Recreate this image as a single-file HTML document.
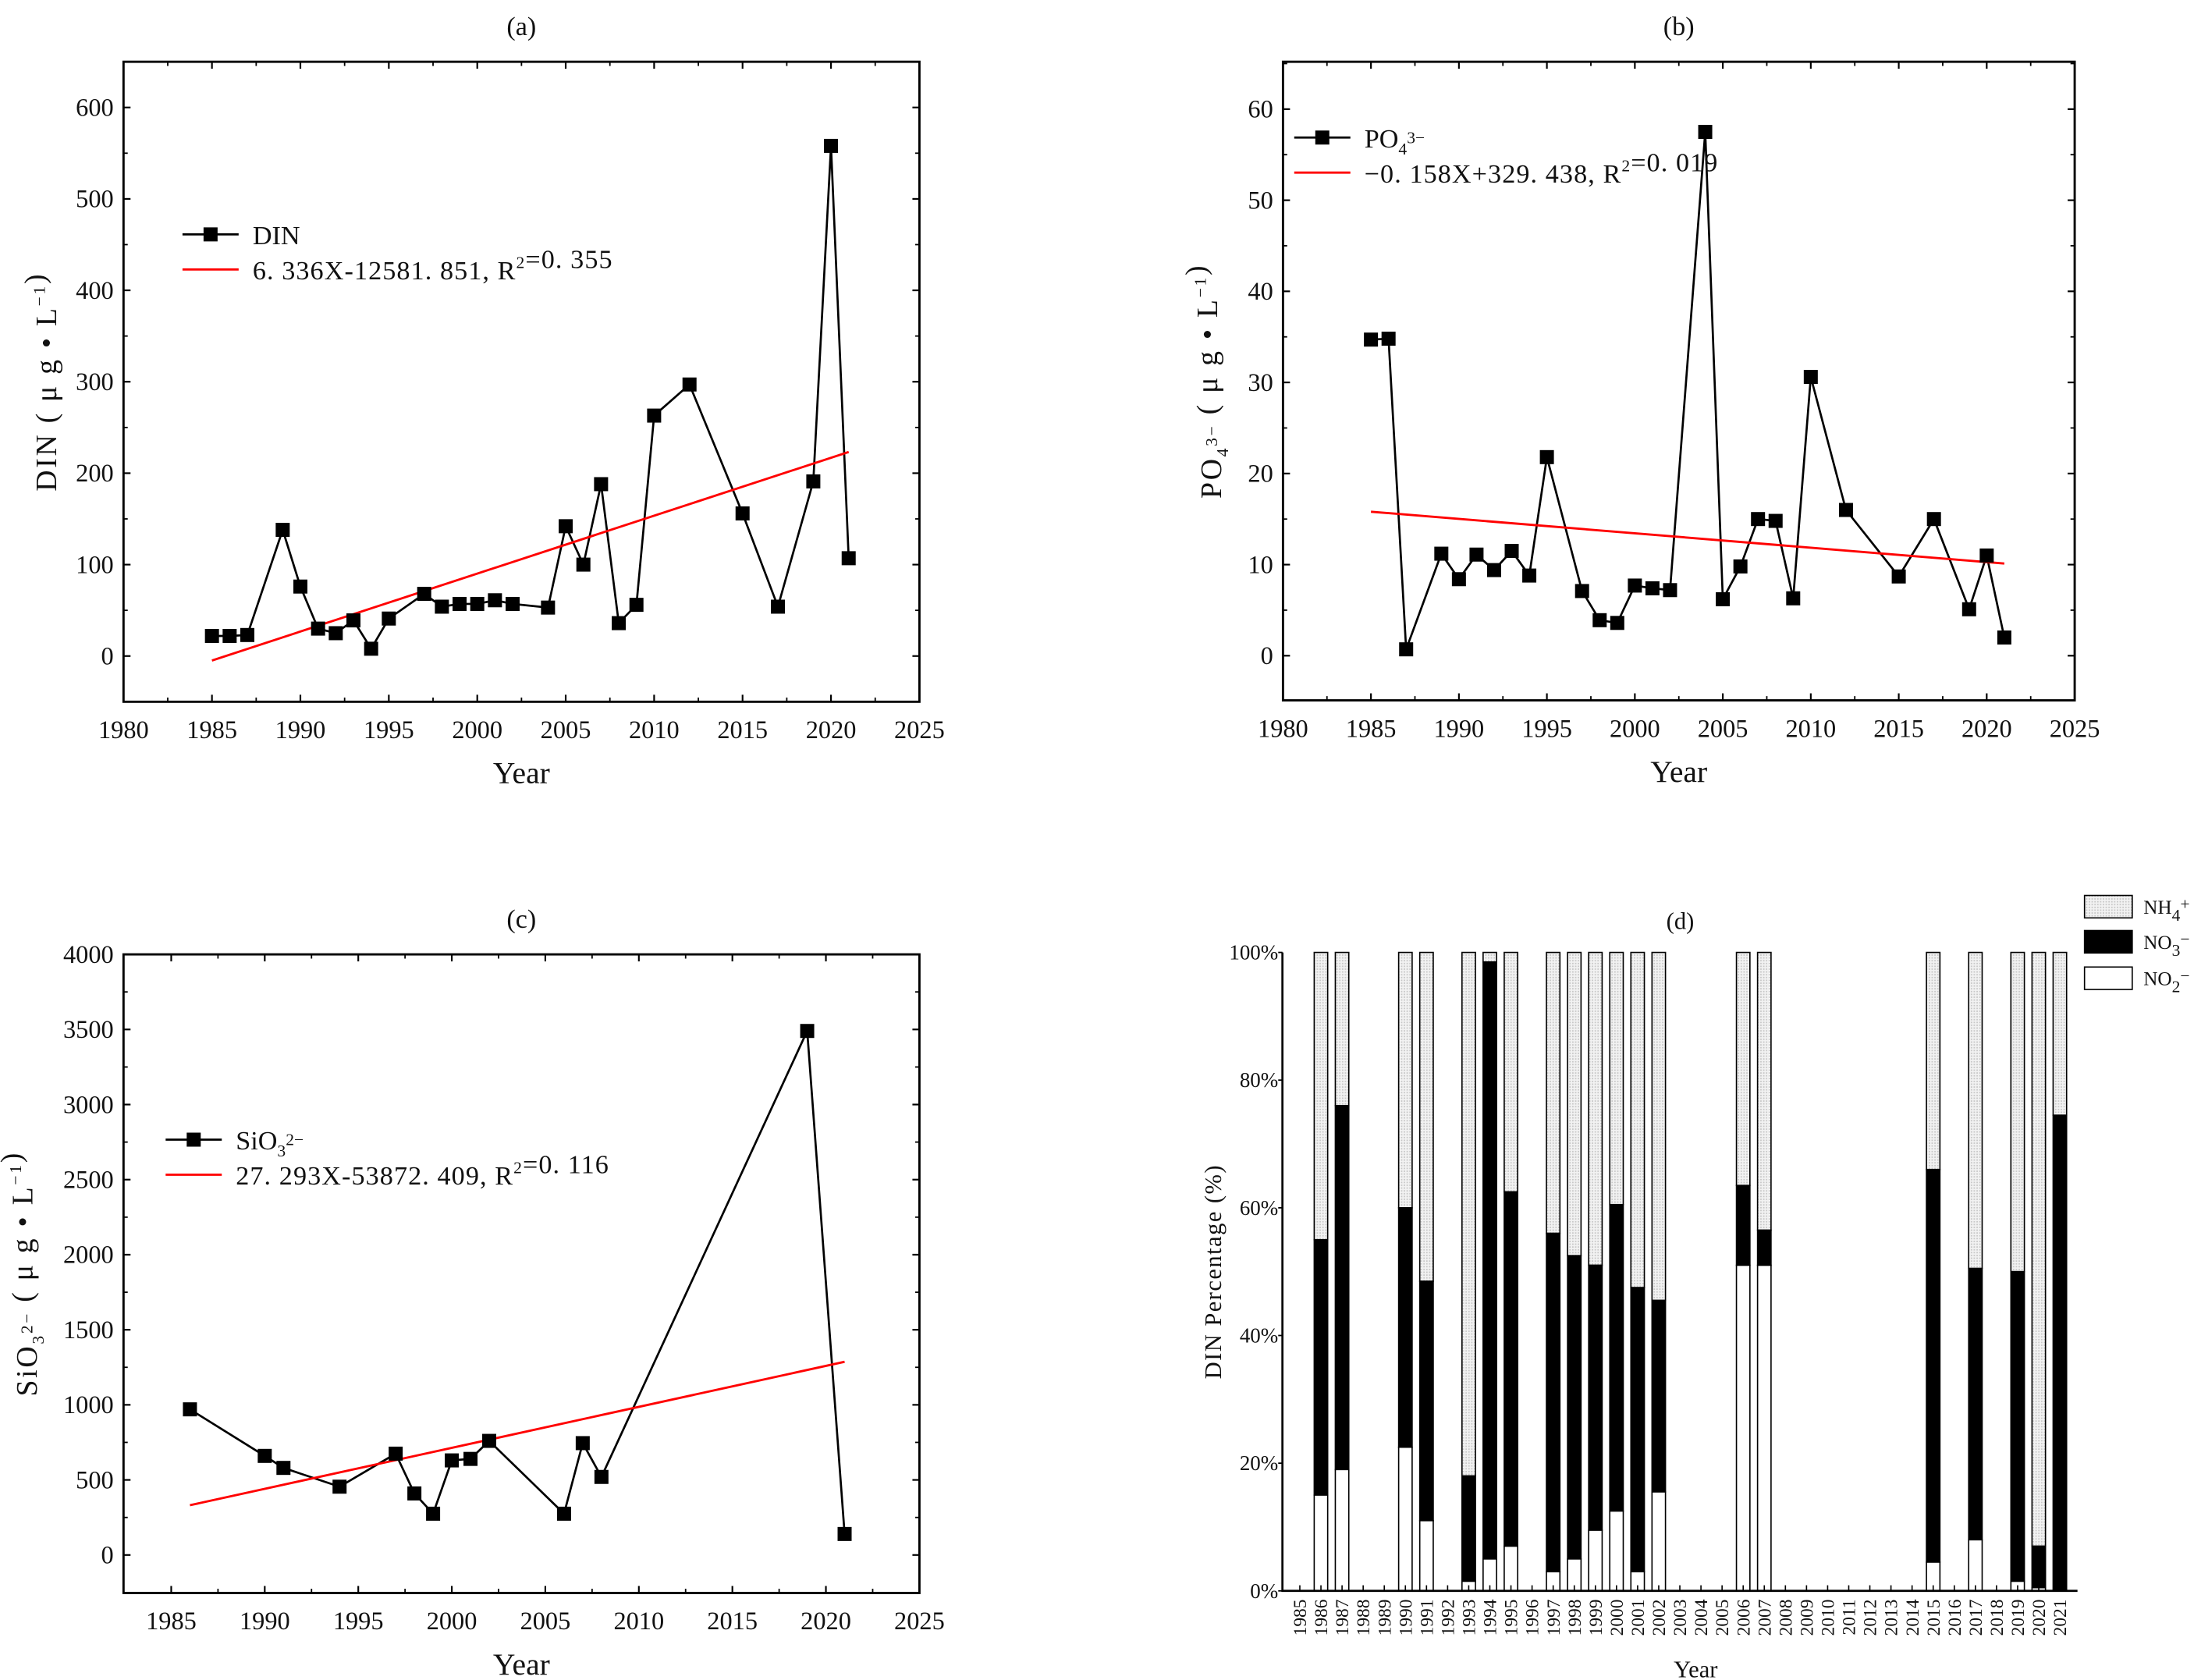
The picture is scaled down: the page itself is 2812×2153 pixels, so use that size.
<!DOCTYPE html>
<html><head><meta charset="utf-8">
<style>
html,body{margin:0;padding:0;background:#fff;}
svg{display:block;}
text{font-family:"Liberation Serif","Noto Serif CJK SC",serif;fill:#111;}
</style></head>
<body>
<svg id="fig" xmlns="http://www.w3.org/2000/svg" width="2812" height="2153" viewBox="0 0 1563 1197" preserveAspectRatio="none">
<defs>
<pattern id="dots" width="2" height="2" patternUnits="userSpaceOnUse">
<rect width="2" height="2" fill="#f2f2f2"/><rect width="1" height="1" fill="#c8c8c8"/>
</pattern>
</defs>
</svg>
<script>
// ---- Panel (a) data ----
const yearsA = [1985,1986,1987,1989,1990,1991,1992,1993,1994,1995,1997,1998,1999,2000,2001,2002,2004,2005,2006,2007,2008,2009,2010,2012,2015,2017,2019,2020,2021];
const dinA = [22,22,23,138,76,30,25,39,8,41,68,54,57,57,61,57,53,142,100,188,36,56,263,297,156,54,191,558,107];
const trendA = [6.336,-12581.851];
const yTicksA = [0,100,200,300,400,500,600];
const xTicksA = [1980,1985,1990,1995,2000,2005,2010,2015,2020,2025];
// ---- Panel (b) data ----
const yearsB = [1985,1986,1987,1989,1990,1991,1992,1993,1994,1995,1997,1998,1999,2000,2001,2002,2004,2005,2006,2007,2008,2009,2010,2012,2015,2017,2019,2020,2021];
const po4B = [34.7,34.8,0.7,11.2,8.4,11.1,9.4,11.5,8.8,21.8,7.1,3.9,3.6,7.7,7.4,7.2,57.5,6.2,9.8,15,14.8,6.3,30.6,16,8.7,15,5.1,11,2];
const trendB = [-0.158,329.438];
const yTicksB = [0,10,20,30,40,50,60];
const xTicksB = [1980,1985,1990,1995,2000,2005,2010,2015,2020,2025];
// ---- Panel (c) data ----
const yearsC = [1986,1990,1991,1994,1997,1998,1999,2000,2001,2002,2006,2007,2008,2019,2021];
const sio3C = [970,660,580,455,675,410,275,630,640,760,275,745,520,3490,140];
const trendC = [27.293,-53872.409];
const yTicksC = [0,500,1000,1500,2000,2500,3000,3500,4000];
const xTicksC = [1985,1990,1995,2000,2005,2010,2015,2020,2025];
// ---- Panel (d) data ----
const catsD = [1985,1986,1987,1988,1989,1990,1991,1992,1993,1994,1995,1996,1997,1998,1999,2000,2001,2002,2003,2004,2005,2006,2007,2008,2009,2010,2011,2012,2013,2014,2015,2016,2017,2018,2019,2020,2021];
const no2D = [null,15,19,null,null,22.5,11,null,1.5,5,7,null,3,5,9.5,12.5,3,15.5,null,null,null,51,51,null,null,null,null,null,null,null,4.5,null,8,null,1.5,0.5,0];
const no3D = [null,40,57,null,null,37.5,37.5,null,16.5,93.5,55.5,null,53,47.5,41.5,48,44.5,30,null,null,null,12.5,5.5,null,null,null,null,null,null,null,61.5,null,42.5,null,48.5,6.5,74.5];
const nh4D = [null,45,24,null,null,40,51.5,null,82,1.5,37.5,null,44,47.5,49,39.5,52.5,54.5,null,null,null,36.5,43.5,null,null,null,null,null,null,null,34,null,49.5,null,50,93,25.5];
const yTicksD = [0,20,40,60,80,100];

const NS='http://www.w3.org/2000/svg';
const svg=document.getElementById('fig');
function mk(tag,attrs,parent){const e=document.createElementNS(NS,tag);for(const k in attrs)e.setAttribute(k,attrs[k]);(parent||svg).appendChild(e);return e;}
function txt(str,attrs,parent){const e=mk('text',attrs,parent);e.textContent=str;return e;}
function lin(d0,d1,r0,r1){return v=>r0+(v-d0)/(d1-d0)*(r1-r0);}

function linePanel(o){
  const g=mk('g',{});
  
  
  const X=lin(o.xd[0],o.xd[1],o.L,o.R), Y=lin(o.yd[0],o.yd[1],o.B,o.T);
  const t=txt(o.title,{x:(o.L+o.R)/2,y:o.T-19,'font-size':19,'text-anchor':'middle'},g);
  
  
  const box=mk('rect',{x:o.L,y:o.T,width:o.R-o.L,height:o.B-o.T,fill:'none',stroke:'#000','stroke-width':1.6},g);
  
  
  const xs=o.xt;
  for(let i=0;i<xs.length;i++){
    const x=X(xs[i]);
    mk('line',{x1:x,x2:x,y1:o.B,y2:o.B-5,stroke:'#000','stroke-width':1.2},g);
    mk('line',{x1:x,x2:x,y1:o.T,y2:o.T+5,stroke:'#000','stroke-width':1.2},g);
    if(i<xs.length-1){const xm=X(xs[i]+2.5);
      mk('line',{x1:xm,x2:xm,y1:o.B,y2:o.B-3,stroke:'#000','stroke-width':1},g);
      mk('line',{x1:xm,x2:xm,y1:o.T,y2:o.T+3,stroke:'#000','stroke-width':1},g);}
    const lb=txt(String(xs[i]),{x:x,y:o.B+26,'font-size':18,'text-anchor':'middle'},g);
    
    
  }
  const ys=o.yt, step=ys[1]-ys[0];
  for(let i=0;i<ys.length;i++){
    const y=Y(ys[i]);
    mk('line',{x1:o.L,x2:o.L+5,y1:y,y2:y,stroke:'#000','stroke-width':1.2},g);
    mk('line',{x1:o.R,x2:o.R-5,y1:y,y2:y,stroke:'#000','stroke-width':1.2},g);
    const lb=txt(String(ys[i]),{x:o.L-7,y:y+6,'font-size':18,'text-anchor':'end'},g);
    
    
  }
  for(let v=ys[0]-step/2; v<=o.yd[1]; v+=step){ if(v<o.yd[0])continue; const y=Y(v);
    mk('line',{x1:o.L,x2:o.L+3,y1:y,y2:y,stroke:'#000','stroke-width':1},g);
    mk('line',{x1:o.R,x2:o.R-3,y1:y,y2:y,stroke:'#000','stroke-width':1},g);}
  const xl=txt('Year',{x:(o.L+o.R)/2,y:o.B+58,'font-size':22,'text-anchor':'middle'},g);
  
  
  const yl=txt('',{transform:`translate(${o.ylx},${(o.T+o.B)/2}) rotate(-90)`,'font-size':21,'letter-spacing':1.5,'text-anchor':'middle'},g);
  yl.innerHTML=o.ylab;
  
  
  const pts=o.xs.map((x,i)=>X(x)+','+Y(o.vs[i])).join(' ');
  const pl=mk('polyline',{points:pts,fill:'none',stroke:'#000','stroke-width':1.5},g);
  
  
  const x0=o.xs[0], x1=o.xs[o.xs.length-1];
  const tr=mk('line',{x1:X(x0),y1:Y(o.tr[0]*x0+o.tr[1]),x2:X(x1),y2:Y(o.tr[0]*x1+o.tr[1]),stroke:'#f00','stroke-width':1.6},g);
  
  
  for(let i=0;i<o.xs.length;i++){
    const m=mk('rect',{x:X(o.xs[i])-5,y:Y(o.vs[i])-5,width:10,height:10,fill:'#000'},g);
    
    
  }
  const lg=mk('g',{},g);
  
  
  mk('line',{x1:o.lx,x2:o.lx+40,y1:o.ly,y2:o.ly,stroke:'#000','stroke-width':1.5},lg);
  mk('rect',{x:o.lx+15,y:o.ly-5,width:10,height:10,fill:'#000'},lg);
  const l1=txt('',{x:o.lx+50,y:o.ly+7,'font-size':19},lg);
  l1.innerHTML=o.l1;
  
  
  mk('line',{x1:o.lx,x2:o.lx+40,y1:o.ly+25,y2:o.ly+25,stroke:'#f00','stroke-width':1.6},lg);
  const l2=txt('',{x:o.lx+50,y:o.ly+32,'font-size':19,'letter-spacing':0.6},lg);
  l2.innerHTML=o.l2;
  
  
}
const sup=s=>`<tspan dy="-8" font-size="12">${s}</tspan><tspan dy="8"></tspan>`;
const sub=s=>`<tspan dy="5" font-size="12">${s}</tspan><tspan dy="-5"></tspan>`;
const unit=`( μ g • L${sup('−1')})`;

linePanel({name:'panel-a-din',title:'(a)',L:88,R:655,T:44,B:500,xd:[1980,2025],yd:[-50,650],xt:xTicksA,yt:yTicksA,
  xs:yearsA,vs:dinA,tr:trendA,ylx:40,ylab:'DIN '+unit,lx:130,ly:167,
  l1:'DIN',l2:`6. 336X-12581. 851, R${sup('2')}=0. 355`});
linePanel({name:'panel-b-po4',title:'(b)',L:914,R:1478,T:44,B:499,xd:[1980,2025],yd:[-4.9,65.2],xt:xTicksB,yt:yTicksB,
  xs:yearsB,vs:po4B,tr:trendB,ylx:870,ylab:`PO${sub('4')}${sup('3−')} `+unit,lx:922,ly:98,
  l1:`PO${sub('4')}${sup('3−')}`,l2:`−0. 158X+329. 438, R${sup('2')}=0. 019`});
linePanel({name:'panel-c-sio3',title:'(c)',L:88,R:655,T:680,B:1135,xd:[1982.45,2025],yd:[-253,4000],xt:xTicksC,yt:yTicksC,
  xs:yearsC,vs:sio3C,tr:trendC,ylx:26,ylab:`SiO${sub('3')}${sup('2−')} `+unit,lx:118,ly:812,
  l1:`SiO${sub('3')}${sup('2−')}`,l2:`27. 293X-53872. 409, R${sup('2')}=0. 116`});

// ---- Panel (d) stacked bars ----
(function(){
  const g=mk('g',{});
  
  
  const L=913.6,R=1480,T=678.6,B=1133.5;
  const Y=lin(0,100,B,T);
  const cx=i=>926+i*15.04;
  const bw=9.6;
  const t=txt('(d)',{x:1197,y:662,'font-size':17,'text-anchor':'middle'},g);
  
  
  for(let i=0;i<catsD.length;i++){
    if(no2D[i]===null)continue;
    const x=cx(i)-bw/2;
    const a=no2D[i], b=a+no3D[i];
    const r1=mk('rect',{x:x,y:Y(100),width:bw,height:Y(b)-Y(100),fill:'url(#dots)',stroke:'#000','stroke-width':0.9},g);
    
    
    const r2=mk('rect',{x:x,y:Y(b),width:bw,height:Y(a)-Y(b),fill:'#000',stroke:'#000','stroke-width':0.9},g);
    
    
    const r3=mk('rect',{x:x,y:Y(a),width:bw,height:Y(0)-Y(a),fill:'#fff',stroke:'#000','stroke-width':0.9},g);
    
    
  }
  const ax=mk('path',{d:`M${L},${T} V${B} H${R}`,fill:'none',stroke:'#000','stroke-width':1.5},g);
  
  
  for(let i=0;i<catsD.length;i++){
    mk('line',{x1:cx(i),x2:cx(i),y1:B,y2:B-4,stroke:'#000','stroke-width':0.9},g);
    const lb=txt(String(catsD[i]),{transform:`translate(${cx(i)+4.5},${B+6}) rotate(-90)`,'font-size':13,'text-anchor':'end'},g);
    
    
  }
  for(let i=0;i<yTicksD.length;i++){
    const y=Y(yTicksD[i]);
    mk('line',{x1:L,x2:L-3,y1:y,y2:y,stroke:'#000','stroke-width':1},g);
    const lb=txt(yTicksD[i]+'%',{x:L-3,y:y+5,'font-size':15,'text-anchor':'end'},g);
    
    
  }
  const xl=txt('Year',{x:1208,y:1195,'font-size':17,'text-anchor':'middle'},g);
  
  
  const yl=txt('DIN Percentage (%)',{transform:`translate(870,${(T+B)/2}) rotate(-90)`,'font-size':17,'letter-spacing':0.8,'text-anchor':'middle'},g);
  
  
  const lg=mk('g',{},g);
  
  
  const items=[['url(#dots)',`NH${sub('4')}${sup('+')}`,638],['#000',`NO${sub('3')}${sup('−')}`,663],['#fff',`NO${sub('2')}${sup('−')}`,689]];
  for(const it of items){
    mk('rect',{x:1485,y:it[2],width:34,height:16,fill:it[0],stroke:'#000','stroke-width':0.9},lg);
    const e=txt('',{x:1527,y:it[2]+13,'font-size':14},lg);
    e.innerHTML=it[1];
    
    
  }
})();
</script>
</body></html>
